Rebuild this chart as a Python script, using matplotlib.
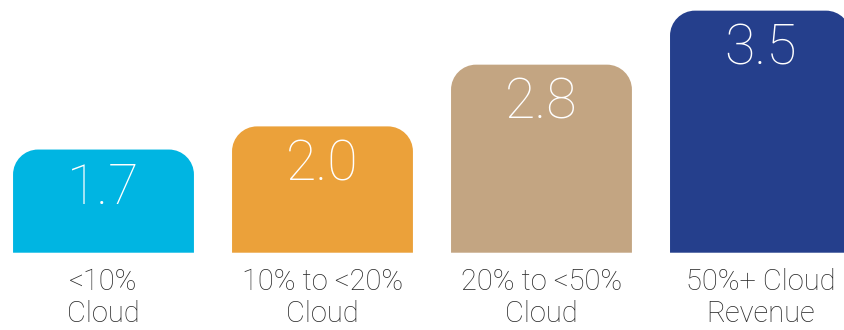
import matplotlib
matplotlib.use("Agg")
import matplotlib.pyplot as plt
from matplotlib.path import Path
from matplotlib.patches import PathPatch

categories = ['<10%\nCloud', '10% to <20%\nCloud', '20% to <50%\nCloud', '50%+ Cloud\nRevenue']
values = [1.7, 2.0, 2.8, 3.5]
colors = ['#00B5E2', '#EBA13A', '#C3A582', '#253F8C']

base = 0.363


def rounded_top(x, y, w, h, rx, ry):
    # rectangle with only the two top corners rounded (bezier quarter ellipses)
    k = 0.5523
    top = y + h
    verts = [
        (x, y),
        (x, top - ry),
        (x, top - ry + k * ry), (x + rx - k * rx, top), (x + rx, top),
        (x + w - rx, top),
        (x + w - rx + k * rx, top), (x + w, top - ry + k * ry), (x + w, top - ry),
        (x + w, y),
        (x, y),
    ]
    codes = [Path.MOVETO, Path.LINETO,
             Path.CURVE4, Path.CURVE4, Path.CURVE4,
             Path.LINETO,
             Path.CURVE4, Path.CURVE4, Path.CURVE4,
             Path.LINETO, Path.CLOSEPOLY]
    return Path(verts, codes)


fig = plt.figure(figsize=(8.45, 3.3), dpi=100)
ax = fig.add_axes([0, 0.2342, 1, 0.7658])

x = range(len(values))
bars = ax.bar(x, [v - base for v in values], width=0.826, bottom=base, color=colors)
ax.set_xlim(-0.4726, 3.386)
ax.set_ylim(base, 3.638)

# swap the plain rectangles for ones with rounded tops
rx = 25 / 219
ry = 25 / 77.2
for rect, c in zip(bars, colors):
    p = rounded_top(rect.get_x(), rect.get_y(), rect.get_width(), rect.get_height(), rx, ry)
    ax.add_patch(PathPatch(p, facecolor=c, edgecolor='none'))
    rect.remove()

for i, v in enumerate(values):
    ax.annotate(f'{v:.1f}', (i, v), xytext=(0, -54), textcoords='offset pixels',
                ha='center', va='baseline', color='white', fontsize=40,
                family='Roboto', fontweight='light')

ax.set_xticks(list(x))
ax.set_xticklabels(categories, family='Roboto', fontweight='light',
                   fontsize=21, color='#2a2a2a', linespacing=1.2)
ax.tick_params(axis='x', length=0, pad=11)
ax.set_yticks([])
for s in ax.spines.values():
    s.set_visible(False)

fig.savefig('out.png', dpi=100)
